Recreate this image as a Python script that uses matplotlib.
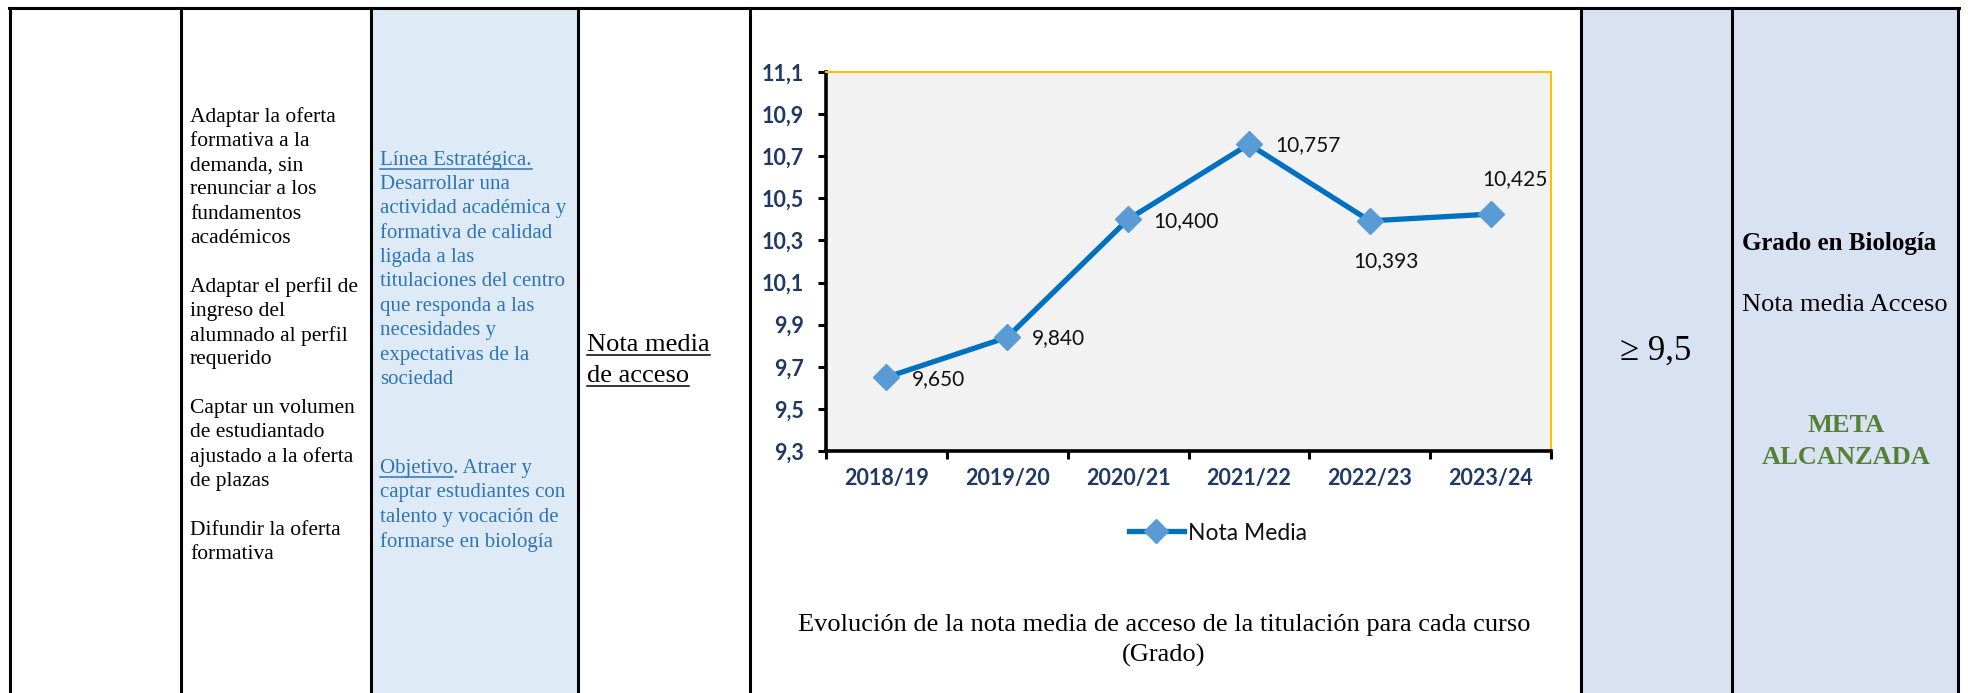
import matplotlib
matplotlib.use('Agg')
import matplotlib.pyplot as plt
from matplotlib.lines import Line2D
from matplotlib.patches import Rectangle
from matplotlib.ticker import FuncFormatter

W, H = 1968, 693

# chart data
cursos = ['2018/19', '2019/20', '2020/21', '2021/22', '2022/23', '2023/24']
nota_media = [9.650, 9.840, 10.400, 10.757, 10.393, 10.425]
y_ticks = [9.3, 9.5, 9.7, 9.9, 10.1, 10.3, 10.5, 10.7, 10.9, 11.1]

# table texts
acciones = ['Adaptar la oferta', 'formativa a la', 'demanda, sin', 'renunciar a los',
            'fundamentos', 'académicos', '',
            'Adaptar el perfil de', 'ingreso del', 'alumnado al perfil', 'requerido', '',
            'Captar un volumen', 'de estudiantado', 'ajustado a la oferta', 'de plazas', '',
            'Difundir la oferta', 'formativa']
linea_estrategica = ['Línea Estratégica.', 'Desarrollar una', 'actividad académica y',
                     'formativa de calidad', 'ligada a las', 'titulaciones del centro',
                     'que responda a las', 'necesidades y', 'expectativas de la', 'sociedad']
objetivo = ['Objetivo. Atraer y', 'captar estudiantes con', 'talento y vocación de',
            'formarse en biología']
indicador = ['Nota media', 'de acceso']
meta = '≥ 9,5'
titulacion = 'Grado en Biología'
indicador_corto = 'Nota media Acceso'
resultado = ['META', 'ALCANZADA']
titulo = ['Evolución de la nota media de acceso de la titulación para cada curso', '(Grado)']

# where each data label sits relative to its point (px right, px up, alignment)
label_pos = [(25, -2, 'left'), (25, -1, 'left'), (25, -1.5, 'left'),
             (26, -1, 'left'), (16, -40, 'center'), (24, 35, 'center')]

serif = 'Liberation Serif'
sans = 'Lato'
azul_txt = '#2E75B6'
navy = '#1F3864'


def fx(x):
    return x / W


def fy(y):
    return 1 - y / H


fig = plt.figure(figsize=(W / 100, H / 100), dpi=100)
renderer = fig.canvas.get_renderer()

# table backgrounds
top = 7.5
for x0, x1, c in [(371, 578, '#DEEBF7'), (1581, 1958, '#D9E2F3')]:
    fig.add_artist(Rectangle((fx(x0), 0), fx(x1) - fx(x0), fy(top), transform=fig.transFigure,
                             facecolor=c, edgecolor='none', zorder=0))

# table borders
fig.add_artist(Line2D([fx(9), fx(1959)], [fy(top), fy(top)], color='black', lw=2.2))
for xv in [10, 181, 371, 578, 750, 1581, 1732, 1958]:
    fig.add_artist(Line2D([fx(xv), fx(xv)], [fy(top), 0], color='black', lw=2.2))


def put(x, y, s, **kw):
    kw.setdefault('va', 'center')
    return fig.text(fx(x), fy(y), s, **kw)


def underline(t, part=None, drop=9):
    bb = t.get_window_extent(renderer)
    x0 = bb.x0
    x1 = bb.x1
    if part is not None:
        tmp = fig.text(0, 0, part, fontproperties=t.get_fontproperties())
        x1 = x0 + tmp.get_window_extent(renderer).width
        tmp.remove()
    yc = (bb.y0 + bb.y1) / 2 - drop
    fig.add_artist(Line2D([x0 / W, x1 / W], [yc / H, yc / H], color=t.get_color(), lw=1.1))


# column 2
for k, s in enumerate(acciones):
    if s:
        put(190, 117 + 24.3 * k, s, family=serif, fontsize=15.5, color='black')

# column 3
for k, s in enumerate(linea_estrategica):
    t = put(380, 160 + 24.4 * k, s, family=serif, fontsize=15, color=azul_txt)
    if k == 0:
        underline(t)
for k, s in enumerate(objetivo):
    t = put(380, 468 + 24.7 * k, s, family=serif, fontsize=15, color=azul_txt)
    if k == 0:
        underline(t, part='Objetivo')

# column 4
for k, s in enumerate(indicador):
    t = put(587, 345 + 31 * k, s, family=serif, fontsize=19, color='black')
    underline(t, drop=10)

# right columns
put(1656, 351, meta, family=serif, fontsize=25, ha='center', color='black')
put(1742, 244, titulacion, family=serif, fontsize=18, fontweight='bold', color='black')
put(1742, 305, indicador_corto, family=serif, fontsize=19, color='black')
for k, s in enumerate(resultado):
    put(1846, 426 + 31 * k, s, family=serif, fontsize=19, fontweight='bold',
        ha='center', color='#538135')

# chart
ax = fig.add_axes([fx(826), fy(451), fx(1551) - fx(826), (451 - 72) / H])
xs = list(range(len(cursos)))
ax.plot(xs, nota_media, color='#0070C0', lw=3.8, marker='D', ms=13.5,
        mfc='#5B9BD5', mec='#5B9BD5', label='Nota Media', zorder=3, clip_on=False)
ax.set_xlim(-0.5, len(cursos) - 0.5)
ax.set_ylim(y_ticks[0], y_ticks[-1])
ax.set_facecolor('#F2F2F2')
for side in ['left', 'bottom']:
    ax.spines[side].set_color('black')
    ax.spines[side].set_linewidth(2.6)
for side in ['top', 'right']:
    ax.spines[side].set_color('#FFC000')
    ax.spines[side].set_linewidth(1.5)

ax.set_yticks(y_ticks)
ax.yaxis.set_major_formatter(FuncFormatter(lambda v, p: f'{v:.1f}'.replace('.', ',')))
ax.set_xticks(xs)
ax.set_xticklabels(cursos)
ax.set_xticks([i - 0.5 for i in range(len(cursos) + 1)], minor=True)
ax.tick_params(axis='x', which='major', length=0, pad=12)
ax.tick_params(axis='x', which='minor', length=6, width=2.2)
ax.tick_params(axis='y', length=6, width=2.2, pad=10)
plt.setp(ax.get_xticklabels() + ax.get_yticklabels(), family=sans, fontweight='bold',
         fontsize=15.5, color=navy)

for i, (v, (dx, dy, ha)) in enumerate(zip(nota_media, label_pos)):
    ax.annotate(f'{v:.3f}'.replace('.', ','), (i, v), xytext=(dx * 0.72, dy * 0.72),
                textcoords='offset points', ha=ha, va='center', family=sans,
                fontsize=15, color='#111111')

leg = ax.legend(loc='center', bbox_to_anchor=(fx(1218), fy(533)), bbox_transform=fig.transFigure,
                frameon=False, prop={'family': sans, 'size': 16.5}, handlelength=2.4,
                handletextpad=0.2, borderpad=0, borderaxespad=0, markerscale=0.9)
for t in leg.get_texts():
    t.set_color('#111111')

put(1164, 625, titulo[0], family=serif, fontsize=19, ha='center', color='black')
put(1164, 655, titulo[1], family=serif, fontsize=19, ha='center', color='black')

fig.savefig('out.png', dpi=100)
